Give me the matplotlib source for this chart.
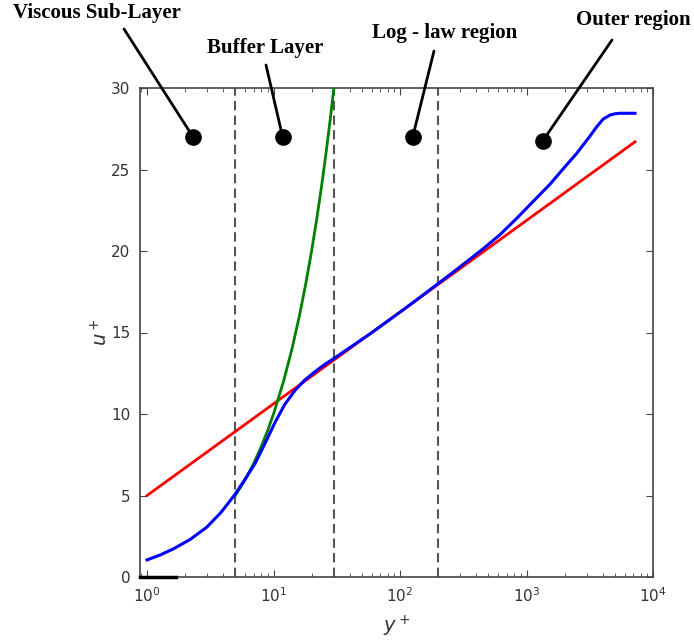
import matplotlib
matplotlib.use("Agg")
import matplotlib.pyplot as plt

# Mean velocity profile in wall units
y_plus = [1.0, 1.27, 1.61, 2.19, 2.96, 3.78, 4.14, 4.97, 5.9, 7.14, 8.57,
          10.3, 12.3, 14.8, 17.7, 21.3, 25.5, 30.6, 60.0, 120.0, 248.0,
          337.0, 456.0, 617.0, 836.0, 1132.0, 1535.0, 1954.0, 2494.0,
          3177.0, 3589.0, 4047.0, 4571.0, 5010.0, 5485.0, 7210.0]
u_plus = [1.05, 1.35, 1.72, 2.3, 3.05, 3.9, 4.28, 5.08, 5.95, 6.95, 8.2,
          9.5, 10.6, 11.45, 12.09, 12.6, 13.05, 13.45, 15.0, 16.7, 18.55,
          19.35, 20.15, 21.0, 22.0, 23.05, 24.1, 25.05, 25.99,
          27.05, 27.62, 28.1, 28.34, 28.42, 28.45, 28.45]

# Viscous sublayer u+ = y+
visc_y = [5, 6, 7, 8, 9, 10, 12, 14, 16, 18, 20, 22, 24, 26, 28, 30]
visc_u = [5, 6, 7, 8, 9, 10, 12, 14, 16, 18, 20, 22, 24, 26, 28, 30]

# Log law end points
log_y = [1.0, 7210.0]
log_u = [5.0, 26.7]

# Short reference segment along u+ = 0
base_y = [0.88, 1.7]
base_u = [0.0, 0.0]

# Region boundaries
bounds = [5, 30, 200]

# Region labels: (text, text position px, line start px, marker y+, marker u+)
region_labels = ["Viscous Sub-Layer", "Buffer Layer", "Log - law region", "Outer region"]
label_pos = [(97, 13), (265, 48), (445, 33), (633, 20)]
line_start = [(124, 29), (266, 65), (434, 51), (612, 40)]
marker_y = [2.31, 11.8, 126.0, 1343.0]
marker_u = [27.0, 27.0, 27.0, 26.75]

W, H = 694, 641
fig = plt.figure(figsize=(W / 100, H / 100), dpi=100)
ax = fig.add_axes([140 / W, 1 - 577 / H, 513 / W, 489 / H])

ax.plot(log_y, log_u, color="#ff0000", lw=2, zorder=3)
ax.plot(visc_y, visc_u, color="#008000", lw=2, zorder=4)
ax.plot(y_plus, u_plus, color="#0000ff", lw=2.2, zorder=5)
ax.plot(base_y, base_u, color="k", lw=2.5, zorder=6, clip_on=False)

for b in bounds:
    ax.axvline(b, color="#555555", lw=1.5, dashes=(4.5, 2.5), zorder=2)

ax.set_xscale("log")
ax.set_xlim(0.88, 1e4)
ax.set_ylim(0, 30)
ax.set_yticks([0, 5, 10, 15, 20, 25, 30])

for s in ax.spines.values():
    s.set_color("#444444")
    s.set_linewidth(1.2)
ax.tick_params(which="both", direction="in", top=True, right=True,
               colors="#444444", labelcolor="#333333", labelsize=11)
ax.tick_params(which="major", length=5, pad=7)
ax.tick_params(which="minor", length=3)

ax.set_xlabel("$y^+$", fontsize=14, color="#333333", labelpad=6)
ax.set_ylabel("$u^+$", fontsize=14, color="#333333", labelpad=0)

for txt, (tx, ty), (sx, sy), my, mu in zip(region_labels, label_pos, line_start,
                                           marker_y, marker_u):
    fig.text(tx / W, 1 - ty / H, txt, ha="center", va="center",
             family="Liberation Serif", fontweight="bold", fontsize=15)
    ax.annotate("", xy=(my, mu), xycoords="data",
                xytext=(sx, H - sy), textcoords="figure pixels",
                arrowprops=dict(arrowstyle="-", lw=2, color="k",
                                shrinkA=0, shrinkB=0), annotation_clip=False)
    ax.plot([my], [mu], "o", color="k", markersize=11, zorder=7, clip_on=False)

fig.savefig("out.png", dpi=100)
